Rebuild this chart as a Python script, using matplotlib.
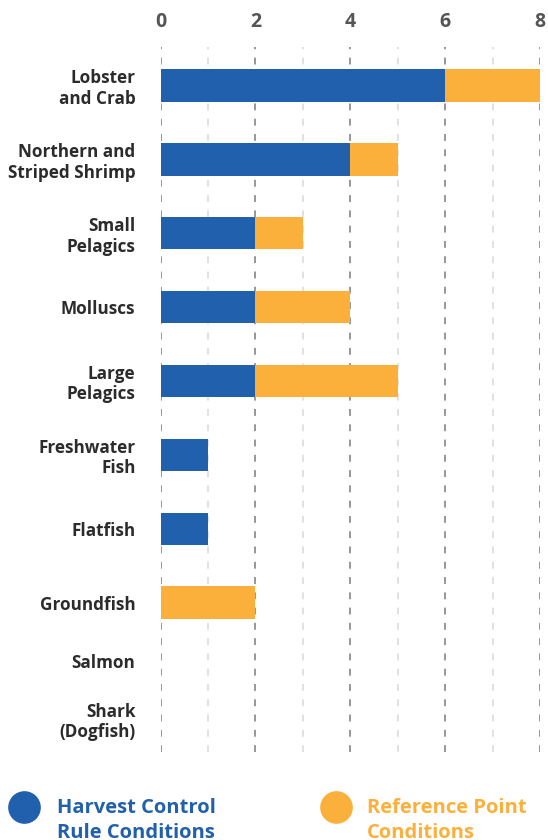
import matplotlib
matplotlib.use("Agg")
import numpy as np
from matplotlib import pyplot as plt
from matplotlib.lines import Line2D

plt.rcParams["font.family"] = ["Open Sans", "DejaVu Sans"]

categorias = [
    "Lobster\nand Crab",
    "Northern and\nStriped Shrimp",
    "Small\nPelagics",
    "Molluscs",
    "Large\nPelagics",
    "Freshwater\nFish",
    "Flatfish",
    "Groundfish",
    "Salmon",
    "Shark\n(Dogfish)",
]
harvest_control = [6, 4, 2, 2, 2, 1, 1, 0, 0, 0]
reference_point = [2, 1, 1, 2, 3, 0, 0, 2, 0, 0]
ticks_x = [0, 2, 4, 6, 8]

AZUL = "#2160ad"
LARANJA = "#fbb03b"

# linhas sem barra ficam mais juntas no fim
posicoes = [0, 1, 2, 3, 4, 5, 6, 7, 7.79, 8.57]

fig = plt.figure(figsize=(5.48, 8.4), dpi=100)
W, H = 548, 840
ax = fig.add_axes([160.5 / W, (H - 752) / H, (540 - 160.5) / W, (752 - 47) / H])

# grade vertical tracejada: pares mais escuros, ímpares claros
for v in range(0, 9):
    cor = "#7a7a7a" if v % 2 == 0 else "#d9d9d9"
    ax.axvline(v, color=cor, linewidth=1.1, linestyle=(0, (4.5, 5.5)), zorder=0)

ax.barh(posicoes, harvest_control, height=0.44, color=AZUL, zorder=2)
ax.barh(posicoes, reference_point, left=harvest_control, height=0.44, color=LARANJA, zorder=2)

ax.set_xlim(0, 8)
ax.set_ylim(9.02, -0.52)
ax.set_xticks(ticks_x)
ax.set_xticklabels([str(t) for t in ticks_x])
ax.set_yticks(posicoes)
ax.set_yticklabels(categorias, linespacing=1.17)
ax.tick_params(axis="x", top=True, labeltop=True, bottom=False, labelbottom=False,
               length=0, pad=11, labelsize=14, labelcolor="#555555")
ax.tick_params(axis="y", left=False, length=0, pad=18, labelsize=12.3, labelcolor="#2b2b2b")
for lbl in ax.get_xticklabels() + ax.get_yticklabels():
    lbl.set_fontweight("bold")
for s in ax.spines.values():
    s.set_visible(False)

# legenda manual embaixo
itens = [
    (23.7, 56.7, AZUL, ["Harvest Control", "Rule Conditions"]),
    (336, 367, LARANJA, ["Reference Point", "Conditions"]),
]
for cx, tx, cor, linhas in itens:
    fig.add_artist(Line2D([cx / W], [1 - 806.7 / H], marker="o", markersize=22.5,
                          color=cor, linestyle="none", transform=fig.transFigure))
    for i, linha in enumerate(linhas):
        fig.text(tx / W, 1 - (812.7 + 25.7 * i) / H, linha, color=cor,
                 fontsize=14.5, fontweight="bold", va="baseline", ha="left")

fig.savefig("out.png", dpi=100)
